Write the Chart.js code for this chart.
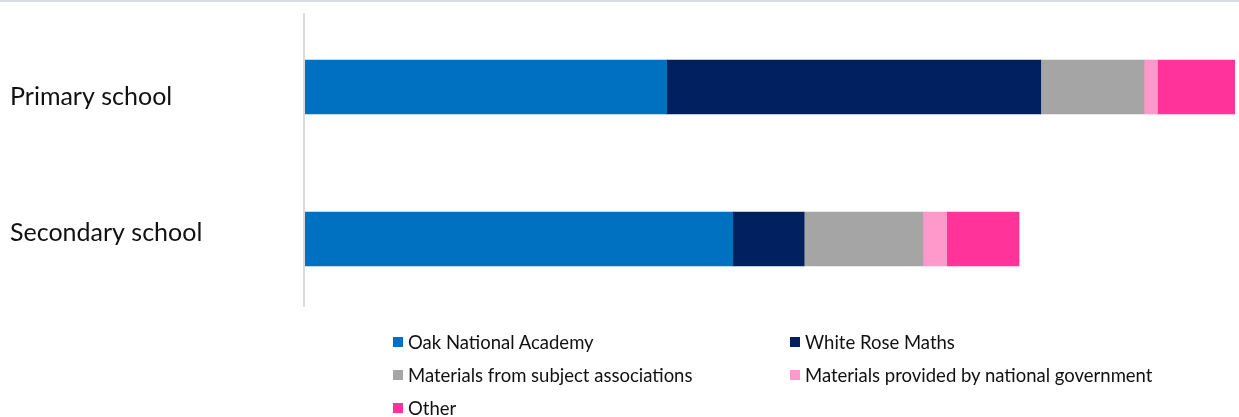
<!DOCTYPE html>
<html>
<head>
<meta charset="utf-8">
<script src="https://cdn.jsdelivr.net/npm/chart.js@4"></script>
<style>
  html, body { margin: 0; padding: 0; background: #fff; }
  body { width: 1239px; height: 417px; position: relative; overflow: hidden; border-top: 2px solid #d9dbe7; box-sizing: border-box; }
  #wrap { position: absolute; left: 0; top: -2px; width: 1239px; height: 320px; }
  #legend { position: absolute; left: 0; top: 0; width: 1239px; height: 417px; pointer-events: none; }
  .item { position: absolute; display: flex; align-items: center; font-family: Lato, "Noto Sans", sans-serif; font-size: 18.5px; color: #111; white-space: nowrap; }
  .box { width: 10px; height: 10px; margin-right: 5px; }
</style>
</head>
<body>
<div id="wrap"><canvas id="chart"></canvas></div>
<div id="legend"></div>
<script>
// share of schools using each source of maths materials (%)
const schools = ['Primary school', 'Secondary school'];
const sources = [
    'Oak National Academy',
    'White Rose Maths',
    'Materials from subject associations',
    'Materials provided by national government',
    'Other'
];
const oak = [35.0, 41.4];
const whiteRose = [36.2, 6.9];
const subjectAssoc = [10.0, 11.5];
const government = [1.3, 2.3];
const other = [7.5, 7.0];
const colours = ['#0070c0', '#002060', '#a5a5a5', '#ff99cc', '#ff3399'];

const seriesValues = [oak, whiteRose, subjectAssoc, government, other];

// category names sit a bit off the bar centres, nudged toward the middle
const labelNudge = [10, -6];

// thin grey line down the category axis plus the category names on the left
const axisDecor = {
    id: 'axisDecor',
    afterDraw(chart) {
        const { ctx, chartArea } = chart;
        const yScale = chart.scales.y;
        ctx.save();
        ctx.strokeStyle = '#d9d9d9';
        ctx.lineWidth = 2;
        ctx.beginPath();
        ctx.moveTo(chartArea.left - 1, chartArea.top + 2);
        ctx.lineTo(chartArea.left - 1, chartArea.bottom - 8);
        ctx.stroke();

        ctx.fillStyle = '#111';
        ctx.font = '25px Lato, "Noto Sans", sans-serif';
        ctx.textAlign = 'left';
        ctx.textBaseline = 'middle';
        schools.forEach((name, i) => {
            ctx.fillText(name, yScale.left, yScale.getPixelForValue(i) + labelNudge[i]);
        });
        ctx.restore();
    }
};

const ctx = document.getElementById('chart').getContext('2d');

new Chart(ctx, {
    type: 'bar',
    data: {
        labels: schools,
        datasets: sources.map((name, i) => ({
            label: name,
            data: seriesValues[i],
            backgroundColor: colours[i],
            borderWidth: 0,
            barThickness: 54
        }))
    },
    options: {
        indexAxis: 'y',
        responsive: true,
        maintainAspectRatio: false,
        animation: false,
        layout: {
            padding: { left: 10, right: 4, top: 11, bottom: 5 }
        },
        scales: {
            x: {
                stacked: true,
                min: 0,
                max: 90,
                display: false
            },
            y: {
                stacked: true,
                grid: { display: false, drawTicks: false },
                border: { display: false },
                afterFit(scale) { scale.width = 295; },
                ticks: { display: false }
            }
        },
        plugins: {
            legend: { display: false },
            tooltip: { enabled: false }
        }
    },
    plugins: [axisDecor]
});

// two-column legend under the plot
const legendPos = [[393, 342], [790, 342], [393, 375], [790, 375], [393, 408]];
const legendEl = document.getElementById('legend');
sources.forEach((name, i) => {
    const item = document.createElement('div');
    item.className = 'item';
    item.style.left = legendPos[i][0] + 'px';
    item.style.top = (legendPos[i][1] - 14) + 'px';
    item.style.height = '24px';
    const box = document.createElement('span');
    box.className = 'box';
    box.style.background = colours[i];
    const text = document.createElement('span');
    text.textContent = name;
    item.appendChild(box);
    item.appendChild(text);
    legendEl.appendChild(item);
});
</script>
</body>
</html>
